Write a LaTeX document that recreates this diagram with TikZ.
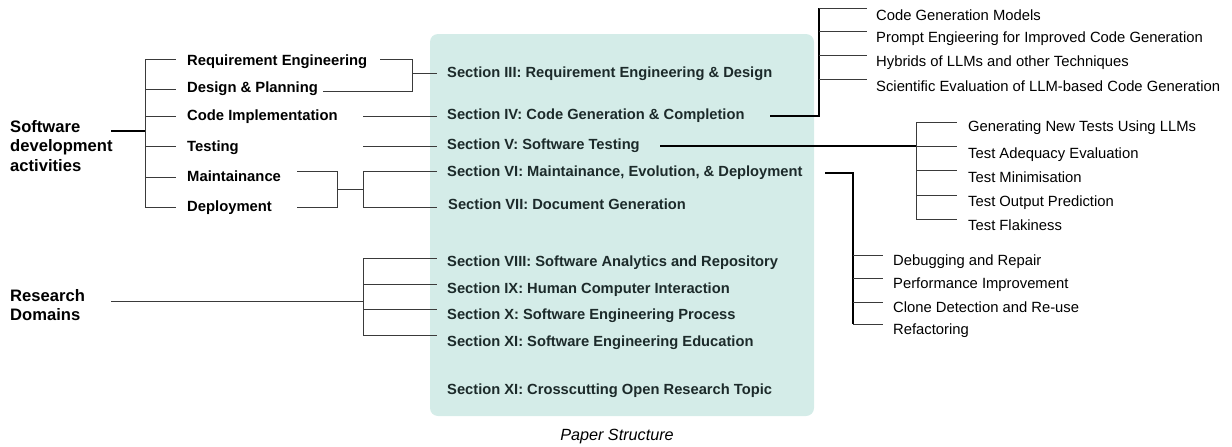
\documentclass[tikz,border=0pt]{standalone}
\usepackage{fontspec}
\setmainfont{Liberation Sans}
\definecolor{boxfill}{HTML}{D4ECE8}
\definecolor{sectext}{HTML}{1C2A2A}
\definecolor{branchgray}{HTML}{3A3A3A}
\begin{document}
\begin{tikzpicture}[line cap=butt,line join=miter,x=1pt,y=-1pt,
	head/.style={anchor=west,inner sep=0pt,align=left,font=\bfseries\fontsize{16.6}{19.5}\selectfont},
	item/.style={anchor=west,inner sep=0pt,yshift=-1.5pt,font=\bfseries\fontsize{14.8}{16}\selectfont},
	sec/.style={anchor=west,inner sep=0pt,yshift=-1.5pt,text=sectext,font=\bfseries\fontsize{14.7}{16}\selectfont},
	topic/.style={anchor=west,inner sep=0pt,yshift=-1.5pt,font=\fontsize{14.8}{16}\selectfont},
	thin/.style={line width=1pt,color=branchgray},
	thick/.style={line width=1.8pt,color=black}]
		\useasboundingbox (0,0) rectangle (1232,447);
		\fill[boxfill,rounded corners=8pt] (430,34) rectangle (814,416);
		\node[inner sep=0pt,font=\itshape\fontsize{16.2}{18}\selectfont] (caption) at (617,437) {Paper Structure};
		% left headings
		\node[head] (sda) at (10,146) {Software\\development\\activities};
		\node[head] (rd) at (10,305) {Research\\Domains};
		% activities
		\node[item] (req) at (187,60) {Requirement Engineering};
		\node[item] (des) at (187,87) {Design \& Planning};
		\node[item] (code) at (187,115) {Code Implementation};
		\node[item] (test) at (187,146) {Testing};
		\node[item] (main) at (187,175) {Maintainance};
		\node[item] (dep) at (187,206) {Deployment};
		% sections
		\node[sec] (s3) at (447,72) {Section III: Requirement Engineering \& Design};
		\node[sec] (s4) at (447,114) {Section IV: Code Generation \& Completion};
		\node[sec] (s5) at (447,144) {Section V: Software Testing};
		\node[sec] (s6) at (447,171) {Section VI: Maintainance, Evolution, \& Deployment};
		\node[sec] (s7) at (448,203) {Section VII: Document Generation};
		\node[sec] (s8) at (447,261) {Section VIII: Software Analytics and Repository};
		\node[sec] (s9) at (447,288) {Section IX: Human Computer Interaction};
		\node[sec] (s10) at (447,314) {Section X: Software Engineering Process};
		\node[sec] (s11) at (447,341) {Section XI: Software Engineering Education};
		\node[sec] (s12) at (447,389) {Section XI: Crosscutting Open Research Topic};
		% code generation topics
		\node[topic] (cg1) at (876,14) {Code Generation Models};
		\node[topic] (cg2) at (876,37) {Prompt Engieering for Improved Code Generation};
		\node[topic] (cg3) at (876,61) {Hybrids of LLMs and other Techniques};
		\node[topic] (cg4) at (876,85) {Scientific Evaluation of LLM-based Code Generation};
		% testing topics
		\node[topic] (t1) at (968,126) {Generating New Tests Using LLMs};
		\node[topic] (t2) at (968,153) {Test Adequacy Evaluation};
		\node[topic] (t3) at (968,176) {Test Minimisation};
		\node[topic] (t4) at (968,201) {Test Output Prediction};
		\node[topic] (t5) at (968,224) {Test Flakiness};
		% maintenance topics
		\node[topic] (m1) at (893,260) {Debugging and Repair};
		\node[topic] (m2) at (893,283) {Performance Improvement};
		\node[topic] (m3) at (893,306) {Clone Detection and Re-use};
		\node[topic] (m4) at (893,329) {Refactoring};
		% activities tree
		\draw [thick] (111,131) -- (145,131);
		\draw [thin] (145,59) -- (145,207);
		\foreach \y in {59,89,116,146,177,207}
			\draw [thin] (145,\y) -- (176,\y);
		\draw [thin] (380,59) -- (412,59) -- (412,91) -- (323,91);
		\draw [thin] (412,73) -- (437,73);
		\draw [thin] (363,116) -- (437,116);
		\draw [thin] (363,146) -- (437,146);
		\draw [thin] (297,171) -- (337,171) -- (337,207) -- (297,207);
		\draw [thin] (337,189) -- (363,189);
		\draw [thin] (437,171) -- (363,171) -- (363,207) -- (437,207);
		% research domains tree
		\draw [thin] (111,301) -- (363,301);
		\draw [thin] (363,258) -- (363,335);
		\foreach \y in {258,284,309,335}
			\draw [thin] (363,\y) -- (437,\y);
		% section IV
		\draw [line width=1.3pt] (770,116) -- (819,116) -- (819,8);
		\foreach \y in {8,31,55,79}
			\draw [thin] (819,\y) -- (867,\y);
		% section V
		\draw [thick] (660,146) -- (916,146);
		\draw [thin] (916,122) -- (916,219);
		\foreach \y in {122,146,170,195,219}
			\draw [thin] (916,\y) -- (957,\y);
		% section VI
		\draw [thick] (825,173) -- (853,173) -- (853,324);
		\foreach \y in {255,278,302,324}
			\draw [thin] (853,\y) -- (883,\y);
\end{tikzpicture}
\end{document}
